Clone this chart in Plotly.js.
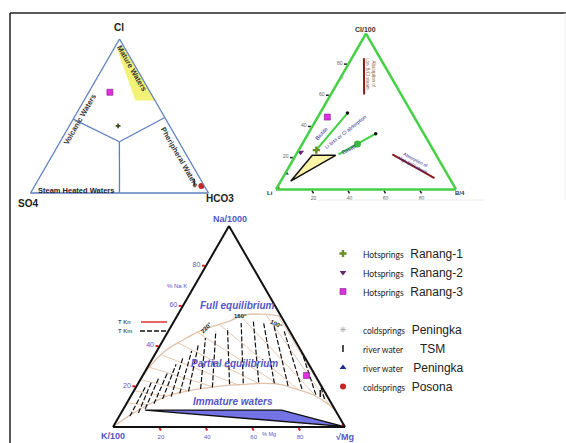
<!DOCTYPE html>
<html><head><meta charset="utf-8">
<script src="https://cdn.plot.ly/plotly-3.0.1.min.js"></script>
<style>html,body{margin:0;padding:0;background:#fff}#g{width:566px;height:443px}</style>
</head><body><div id="g"></div>
<script>
// ---------- DATA ----------
// Diagram 1: Cl - SO4 - HCO3 (%), triples [Cl, SO4, HCO3]
const cshRanang1 = [43.6, 29.0, 27.4];
const cshRanang3 = [65.4, 22.7, 11.9];
const cshTSM     = [7.0, 4.5, 88.5];
const cshPosona  = [4.5, 1.7, 93.8];
// Diagram 2: Cl/100 - Li - B/4 (%), triples [Cl, Li, B]
const clbRanang1 = [25.2, 65.0, 9.8];
const clbRanang2 = [23.8, 74.4, 1.8];
const clbRanang3 = [46.4, 48.3, 5.3];
const clbColdPeningka  = [72.0, 28.0, 0.0];
const clbRiverPeningka = [10.6, 89.4, 0.0];
const clbPosona  = [0.7, 99.3, 0.0];
// Diagram 3: Na/1000 - K/100 - sqrt(Mg) (%), triples [Na, K, Mg]
const nkmRanang3 = [25.6, 3.8, 70.6];
const nkmTSM     = [16.7, 2.3, 81.0];
const nkmPosona  = [0.5, 0.0, 99.5];

// Diagram 1 fields
const matureA = [95.5, 94.0, 60.0, 60.0];
const matureC = [4.5, 1.5, 28.9, 40.0];
const divA = [33.3, 48, null, 33.3, 49, null, 33.3, 0];
const divC = [33.3, 0, null, 33.3, 51, null, 33.3, 50];

// Diagram 2 guides
const yellowA = [5.3, 21.9, 21.9, 5.3];
const yellowC = [5.5, 9.2, 22.2, 5.5];
const biotiteA = [25.2, 49.0];  const biotiteC = [9.7, 15.2];
const basaltA  = [22.5, 35.8];  const basaltC  = [23.5, 37.5];
const lowBClA  = [84.1, 60.9];  const lowBClC  = [6.8, 18.5];
const highBClA = [22.5, 7.3];   const highBClC = [53.4, 84.4];
const basaltDotA = [29.1]; const basaltDotC = [30.7];
const lineEndA = [49.0, 35.8]; const lineEndC = [15.2, 37.5];

// Diagram 3 guides
const fullEqA = [0, 29.6, 37.9, 43.3, 47.8, 50.7, 52.7, 55.7, 56.2, 55.2, 51.7, 45.8, 37.9, 26.1, 16.3, 0];
const fullEqC = [0, 0.7, 3.6, 8.5, 13.8, 19.5, 23.8, 29.0, 35.9, 44.0, 53.4, 63.5, 73.7, 84.2, 91.3, 100];
const partEqA = [0, 6.4, 11.3, 15.8, 18.2, 19.7, 20.7, 21.2, 21.7, 21.2, 18.7, 15.8, 11.3, 6.4, 0];
const partEqC = [0, 4.8, 9.9, 16.6, 24.3, 32.5, 39.1, 46.5, 53.3, 61.2, 70.0, 78.7, 87.1, 94.1, 100];
const tkmLowA  = [5.3, 6.9, 9.0, 11.5, 13.9, 15.1, 16.7, 17.7, 18.9, 19.7, 21.3, 21.7, 22.2, 21.7, 20.5, 18.9, 16.1, 13.9];
const tkmLowC  = [4.6, 7.5, 9.4, 11.9, 14.4, 17.5, 20.4, 23.7, 28.3, 33.0, 39.6, 45.3, 51.7, 58.7, 65.2, 72.0, 79.4, 84.2];
const tkmHighA = [19.7, 22.2, 24.6, 27.1, 31.2, 34.5, 37.8, 41.0, 44.3, 47.6, 49.3, 51.7, 52.6, 51.7, 50.1, 47.6, 42.7, 37.8];
const tkmHighC = [4.0, 5.4, 7.5, 10.0, 11.6, 12.9, 15.0, 16.3, 17.7, 20.5, 24.7, 29.4, 34.2, 39.1, 44.4, 50.0, 58.5, 66.2];
const tknHighA = [12, 18, 23.5, 30, 35.9, 41.9, 47.3, 51.2, 55.5, 56.3, 54.9];
const tknHighC = [0, 0, 0, 0, 3, 7, 12.5, 20, 27, 37.5, 44];
const tknLowA  = [10.9, 15.2, 18.0, 20.0, 20.7, 21.6, 21.3, 18.0, 15.2, 10.8, 9.3];
const tknLowC  = [9.5, 15.5, 23.5, 33.0, 44.0, 52.0, 60.5, 71.5, 80.0, 88.0, 90.5];
const immatureA = [8.4, 8.4, 0.3, 8.4];
const immatureC = [9.6, 68.5, 99.0, 9.6];

const tickVals = [20, 40, 60, 80];
const tickValsRev = [80, 60, 40, 20];
const tickText = ['20', '40', '60', '80'];

// ---------- BUILD ----------
const W = 566, H = 443;
const px = x => x / W, py = y => 1 - y / H;
const bOf = (a, c) => a.map((v, i) => v === null ? null : 100 - v - c[i]);

function pt(sub, triple, style, extra) {
  return Object.assign({type: 'scatterternary', subplot: sub, mode: 'markers',
    a: [triple[0]], b: [triple[1]], c: [triple[2]], marker: style, hoverinfo: 'skip'}, extra || {});
}
function line(sub, a, c, ln, extra) {
  return Object.assign({type: 'scatterternary', subplot: sub, mode: 'lines',
    a: a, b: bOf(a, c), c: c, line: ln, showlegend: false, hoverinfo: 'skip', connectgaps: false}, extra || {});
}
function segs(loA, loC, hiA, hiC) {
  const a = [], c = [];
  loA.forEach((v, i) => { a.push(v, hiA[i], null); c.push(loC[i], hiC[i], null); });
  return {a, c};
}

const S = {
  r1: {symbol: 'cross', size: 6, color: '#6b8e23'},
  r2: {symbol: 'triangle-down', size: 6, color: '#6a2278'},
  r3: {symbol: 'square', size: 6, color: '#e02ee0', line: {width: 0.6, color: '#802080'}},
  cp: {symbol: 'asterisk-open', size: 5, color: '#b8b8b8', line: {width: 1, color: '#b8b8b8'}},
  tsm: {symbol: 'line-ns-open', size: 5, color: '#222', line: {width: 1.6, color: '#222'}},
  rp: {symbol: 'triangle-up', size: 6, color: '#1c2a8a'},
  po: {symbol: 'circle', size: 6, color: '#cc2222'}
};
const nm = (a, b, gap) => '<span style="font-size:8.5px;font-family:Lato">' + a + '</span>' + '\u00a0'.repeat(gap) + b;

const dsh = segs(tkmLowA, tkmLowC, tkmHighA, tkmHighC);
const tan = segs(tknHighA, tknHighC, tknLowA, tknLowC);

const data = [
  // diagram 1 fields
  line('ternary', matureA, matureC, {width: 0}, {fill: 'toself', fillcolor: '#f3f277'}),
  line('ternary', divA, divC, {color: '#5b7fc0', width: 1.3}),
  // diagram 2 guides
  line('ternary2', yellowA, yellowC, {color: '#111', width: 1.5}, {fill: 'toself', fillcolor: '#fbf3a6'}),
  line('ternary2', biotiteA, biotiteC, {color: '#3fd23f', width: 2}),
  line('ternary2', basaltA, basaltC, {color: '#3fd23f', width: 2}),
  line('ternary2', lowBClA, lowBClC, {color: '#8b1a1a', width: 2}),
  line('ternary2', highBClA, highBClC, {color: '#8b1a1a', width: 2}),
  {type: 'scatterternary', subplot: 'ternary2', mode: 'markers', a: basaltDotA, c: basaltDotC, b: bOf(basaltDotA, basaltDotC),
   marker: {size: 7, color: '#3cb83c'}, showlegend: false, hoverinfo: 'skip'},
  {type: 'scatterternary', subplot: 'ternary2', mode: 'markers', a: lineEndA, c: lineEndC, b: bOf(lineEndA, lineEndC),
   marker: {size: 3.5, color: '#111'}, showlegend: false, hoverinfo: 'skip'},
  // diagram 3 guides
  line('ternary3', tan.a, tan.c, {color: '#e6c8b2', width: 1}),
  line('ternary3', fullEqA, fullEqC, {color: '#e2c1a8', width: 1.3, shape: 'spline'}),
  line('ternary3', partEqA, partEqC, {color: '#e2c1a8', width: 1.3, shape: 'spline'}),
  line('ternary3', dsh.a, dsh.c, {color: '#111', width: 1.2, dash: '5px,2px'}),
  line('ternary3', immatureA, immatureC, {color: '#111', width: 1.4}, {fill: 'toself', fillcolor: '#7373e6'}),
  // sample points (legend traces first)
  pt('ternary2', clbRanang1, S.r1, {name: nm('Hotsprings', 'Ranang-1', 2), legendgroup: 'hot'}),
  pt('ternary2', clbRanang2, S.r2, {name: nm('Hotsprings', 'Ranang-2', 2), legendgroup: 'hot'}),
  pt('ternary', cshRanang3, S.r3, {name: nm('Hotsprings', 'Ranang-3', 2), legendgroup: 'hot'}),
  pt('ternary2', clbColdPeningka, S.cp, {name: nm('coldsprings', 'Peningka', 2), legendgroup: 'cold'}),
  pt('ternary', cshTSM, S.tsm, {name: nm('river water', 'TSM', 5), legendgroup: 'cold'}),
  pt('ternary2', clbRiverPeningka, S.rp, {name: nm('river water', 'Peningka', 3), legendgroup: 'cold'}),
  pt('ternary', cshPosona, S.po, {name: nm('coldsprings', 'Posona', 2), legendgroup: 'cold'}),
  pt('ternary', cshRanang1, Object.assign({}, S.r1, {color: '#3a4a20', size: 4}), {showlegend: false, legendgroup: 'hot'}),
  pt('ternary2', clbRanang3, S.r3, {showlegend: false, legendgroup: 'hot'}),
  pt('ternary3', nkmRanang3, S.r3, {showlegend: false, legendgroup: 'hot'}),
  pt('ternary2', clbPosona, S.po, {showlegend: false, legendgroup: 'cold'}),
  pt('ternary3', nkmTSM, S.tsm, {showlegend: false, legendgroup: 'cold'}),
  pt('ternary3', nkmPosona, S.po, {showlegend: false, legendgroup: 'cold'})
];

function ax(color, width, opts) {
  return Object.assign({title: {text: ''}, min: 0, linecolor: color, linewidth: width,
    showgrid: false, showticklabels: false, ticks: '', showline: true}, opts || {});
}
const t2tick = {showticklabels: true, ticks: 'outside', ticklen: 3, tickwidth: 1.5, tickcolor: '#222',
  tickfont: {size: 5, color: '#666', family: 'Liberation Sans'}, tickmode: 'array'};
const t3tick = {showticklabels: true, ticks: 'outside', ticklen: 3, tickwidth: 2, tickcolor: '#dd2222',
  tickfont: {size: 7, color: '#5a5ac8', family: 'Liberation Sans'}, tickmode: 'array'};

const F = 'Liberation Sans';
function ann(text, x, y, size, color, angle, extra) {
  return Object.assign({text: text, x: px(x), y: py(y), xref: 'paper', yref: 'paper', showarrow: false,
    textangle: angle || 0, font: {family: F, size: size, color: color}, xanchor: 'center', yanchor: 'middle'}, extra || {});
}
const blue = '#5656c6', navy = '#2a2a8a';
const annotations = [
  ann('<b>Cl</b>', 119, 28, 10, '#222'),
  ann('<b>SO4</b>', 28, 203, 10, '#222'),
  ann('<b>HCO3</b>', 220, 198, 10, '#222'),
  ann('<b>Mature Waters</b>', 131, 68, 7.5, '#333', 60),
  ann('<b>Volcanic Waters</b>', 80, 120, 7.5, '#333', -60),
  ann('<b>Pheripheral Waters</b>', 180, 157, 7.5, '#333', 60),
  ann('<b>Steam Heated Waters</b>', 76, 190, 7.5, '#222'),
  ann('<b>Cl/100</b>', 365, 29, 7, '#333'),
  ann('<b>Li</b>', 270, 193, 6, '#333'),
  ann('<b>B/4</b>', 460, 193, 6, '#333'),
  ann('Absorption of<br>Low B/Cl steam', 370, 74, 4.5, '#8b5a2b', 90),
  ann('Biotite', 321, 134, 5.5, navy, -48),
  ann('Li loss or Cl absorption', 345, 132, 5, navy, -38),
  ann('Basalt', 349, 149, 5.5, navy, -28),
  ann('Absorption of<br>High B/Cl steam', 414, 162, 4.5, navy, 28),
  ann('<b>Na/1000</b>', 230, 219, 9, blue),
  ann('<b>K/100</b>', 113, 436, 9, blue),
  ann('<b>\u221AMg</b>', 345, 437, 9, blue),
  ann('% Na K', 177, 286, 6, blue),
  ann('% Mg', 269, 434, 5.5, blue),
  ann('<b><i>Full equilibrium</i></b>', 237, 305, 10, blue),
  ann('<b><i>Partial equilibrium</i></b>', 234, 363, 10, blue),
  ann('<b><i>Immature waters</i></b>', 233, 401, 10, blue),
  ann('T Kn', 125, 322, 6, '#111'),
  ann('T Km', 125, 331, 6, '#111'),
  ann('<b>220\u00b0</b>', 206, 328, 6, '#222', -45),
  ann('<b>160\u00b0</b>', 240, 316, 6, '#222'),
  ann('<b>100\u00b0</b>', 276, 324, 6, '#222', 25)
];
function seg(x0, y0, x1, y1, color, width, dash) {
  return {type: 'line', xref: 'paper', yref: 'paper', x0: px(x0), y0: py(y0), x1: px(x1), y1: py(y1),
    line: {color: color, width: width, dash: dash || 'solid'}};
}
const shapes = [
  seg(10, 13, 566, 13, '#222', 1.5),
  seg(10, 13, 10, 443, '#222', 1.5),
  seg(318, 200, 484, 200, '#ececec', 1),
  seg(565, 13, 565, 200, '#eeeeee', 1),
  seg(141, 322, 167, 322, '#e03030', 1.5),
  seg(140, 331, 167, 331, '#111', 1.3, '5px,2px')
];

const layout = {
  width: W, height: H, autosize: false, margin: {l: 0, r: 0, t: 0, b: 0},
  paper_bgcolor: '#fff', hovermode: false, showlegend: true,
  ternary: {sum: 100, bgcolor: '#fff', domain: {x: [30.5 / W, 208.5 / W], y: [py(193), py(39)]},
    aaxis: ax('#5b7fc0', 1.3), baxis: ax('#5b7fc0', 1.3), caxis: ax('#5b7fc0', 1.3)},
  ternary2: {sum: 100, bgcolor: '#fff', domain: {x: [276 / W, 456 / W], y: [py(189.5), py(33.5)]},
    aaxis: ax('#46d046', 2.5, Object.assign({}, t2tick, {tickvals: tickVals, ticktext: tickText})),
    baxis: ax('#46d046', 2.5, Object.assign({}, t2tick, {tickvals: tickValsRev, ticktext: tickText})),
    caxis: ax('#46d046', 2.5)},
  ternary3: {sum: 100, bgcolor: '#fff', domain: {x: [113 / W, 345 / W], y: [py(427), py(226)]},
    aaxis: ax('#111', 2, Object.assign({}, t3tick, {tickvals: tickVals, ticktext: tickText})),
    baxis: ax('#111', 2, Object.assign({}, t3tick, {tickvals: tickValsRev, ticktext: tickText, tickfont: {size: 6, color: '#5a5ac8', family: F}})),
    caxis: ax('#111', 2)},
  legend: {x: px(323), y: py(239), xanchor: 'left', yanchor: 'top', traceorder: 'grouped', tracegroupgap: 19,
    font: {family: F, size: 12, color: '#222'}, bgcolor: 'rgba(0,0,0,0)', itemclick: false, itemdoubleclick: false},
  annotations: annotations, shapes: shapes
};
Plotly.newPlot('g', data, layout, {staticPlot: true, displayModeBar: false});
</script></body></html>
